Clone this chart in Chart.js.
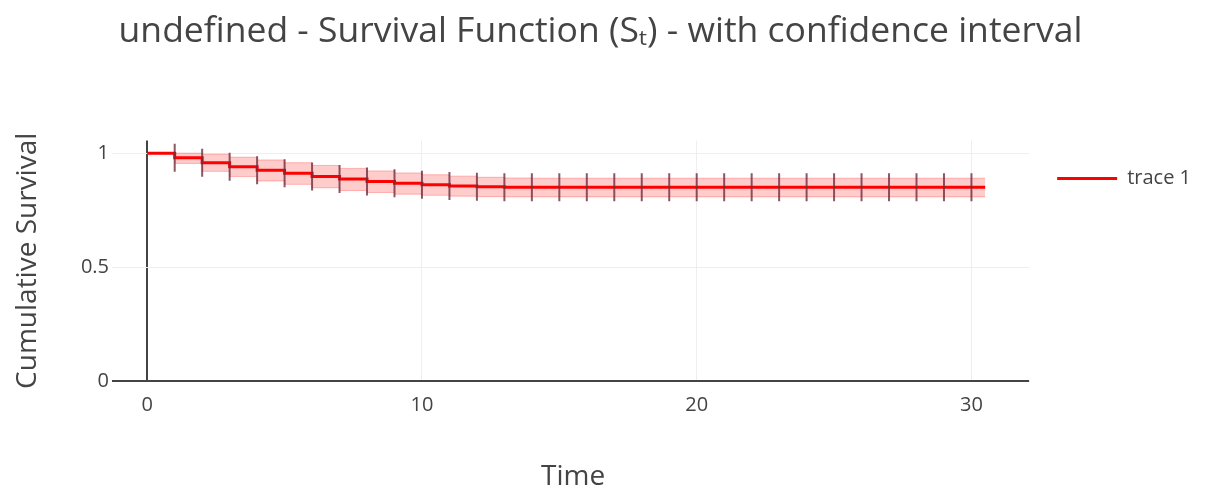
<!DOCTYPE html>
<html>
<head>
<meta charset="utf-8">
<title>Survival Function</title>
<script src="https://cdn.jsdelivr.net/npm/chart.js@4"></script>
<style>
  html, body { margin: 0; padding: 0; background: #fff; }
  #wrap { width: 1219px; height: 489px; position: relative; }
</style>
</head>
<body>
<div id="wrap"><canvas id="survivalChart"></canvas></div>
<script>
// Kaplan-Meier estimate
const times = [0, 1, 2, 3, 4, 5, 6, 7, 8, 9, 10, 11, 12, 13, 14, 15, 16, 17, 18, 19, 20, 21, 22, 23, 24, 25, 26, 27, 28, 29, 30, 30.5];
const survival = [1, 0.98, 0.958, 0.94, 0.925, 0.912, 0.898, 0.886, 0.876, 0.868, 0.861, 0.856, 0.852, 0.85, 0.85, 0.85, 0.85, 0.85, 0.85, 0.85, 0.85, 0.85, 0.85, 0.85, 0.85, 0.85, 0.85, 0.85, 0.85, 0.85, 0.85, 0.85];
const upper = [1, 1, 0.995, 0.982, 0.97, 0.958, 0.946, 0.933, 0.922, 0.913, 0.905, 0.899, 0.894, 0.891, 0.89, 0.89, 0.89, 0.89, 0.89, 0.89, 0.89, 0.89, 0.89, 0.89, 0.89, 0.89, 0.89, 0.89, 0.89, 0.89, 0.89, 0.89];
const lower = [1, 0.955, 0.92, 0.897, 0.878, 0.863, 0.848, 0.836, 0.827, 0.82, 0.815, 0.811, 0.809, 0.808, 0.808, 0.808, 0.808, 0.808, 0.808, 0.808, 0.808, 0.808, 0.808, 0.808, 0.808, 0.808, 0.808, 0.808, 0.808, 0.808, 0.808, 0.808];
const censorTimes = [1, 2, 3, 4, 5, 6, 7, 8, 9, 10, 11, 12, 13, 14, 15, 16, 17, 18, 19, 20, 21, 22, 23, 24, 25, 26, 27, 28, 29, 30];
const xTicks = [0, 10, 20, 30];
const yTicks = [0, 0.5, 1];

const FONT = "'Open Sans', 'DejaVu Sans', sans-serif";
const TEXT = '#444';

function pts(ys) {
  return times.map((t, i) => ({ x: t, y: ys[i] }));
}
const censorPts = censorTimes.map(t => ({ x: t, y: survival[times.indexOf(t)] }));

const ctx = document.getElementById('survivalChart').getContext('2d');
new Chart(ctx, {
  type: 'line',
  data: {
    datasets: [
      {
        label: 'upper',
        data: pts(upper),
        stepped: 'before',
        borderColor: 'rgba(255, 0, 0, 0.25)',
        borderWidth: 1,
        pointRadius: 0,
        fill: false,
        order: 3
      },
      {
        label: 'lower',
        data: pts(lower),
        stepped: 'before',
        borderColor: 'rgba(255, 0, 0, 0.25)',
        borderWidth: 1,
        backgroundColor: 'rgba(255, 0, 0, 0.2)',
        pointRadius: 0,
        fill: '-1',
        order: 2
      },
      {
        label: 'trace 1',
        data: pts(survival),
        stepped: 'before',
        borderColor: 'rgb(255, 0, 0)',
        backgroundColor: 'rgb(255, 0, 0)',
        borderWidth: 3,
        pointRadius: 0,
        fill: false,
        order: 1
      },
      {
        label: 'censored',
        data: censorPts,
        showLine: false,
        pointStyle: 'line',
        rotation: 90,
        pointRadius: 14,
        pointBorderWidth: 2,
        pointBorderColor: 'rgba(110, 45, 60, 0.8)',
        order: 0
      }
    ]
  },
  options: {
    responsive: true,
    maintainAspectRatio: false,
    animation: false,
    layout: { padding: { left: 0, right: 18, top: 0, bottom: 0 } },
    plugins: {
      tooltip: { enabled: false },
      title: {
        display: true,
        text: 'undefined - Survival Function (Sₜ) - with confidence interval',
        color: TEXT,
        font: { family: FONT, size: 35.5, weight: 'normal' },
        padding: { top: 11, bottom: 87 }
      },
      legend: {
        position: 'right',
        align: 'start',
        fullSize: false,
        labels: {
          color: TEXT,
          font: { family: FONT, size: 20, lineHeight: 1 },
          boxWidth: 60,
          boxHeight: 3,
          padding: 28,
          generateLabels: chart => Chart.defaults.plugins.legend.labels.generateLabels(chart)
            .filter(item => item.text === 'trace 1')
            .map(item => Object.assign(item, { lineWidth: 0, fillStyle: 'rgb(255, 0, 0)' }))
        }
      }
    },
    scales: {
      x: {
        type: 'linear',
        min: -1.1,
        max: 32.1,
        afterBuildTicks: s => { s.ticks = xTicks.map(v => ({ value: v })); },
        afterFit: s => { s.height = 108; },
        border: { display: false },
        grid: {
          color: c => c.tick && c.tick.value === 0 ? '#444' : '#eee',
          lineWidth: c => c.tick && c.tick.value === 0 ? 2 : 1,
          drawTicks: false
        },
        ticks: {
          color: TEXT,
          font: { family: FONT, size: 20 },
          padding: 12,
          maxRotation: 0
        },
        title: {
          display: true,
          text: 'Time',
          color: TEXT,
          font: { family: FONT, size: 28 },
          padding: { top: 0, bottom: -5 }
        }
      },
      y: {
        type: 'linear',
        min: 0,
        max: 1.055,
        afterBuildTicks: s => { s.ticks = yTicks.map(v => ({ value: v })); },
        afterFit: s => { s.width = 117; },
        border: { display: false },
        grid: {
          color: c => c.tick && c.tick.value === 0 ? '#444' : '#eee',
          lineWidth: c => c.tick && c.tick.value === 0 ? 2 : 1,
          tickLength: 5
        },
        ticks: {
          color: TEXT,
          font: { family: FONT, size: 20 },
          padding: 3,
          callback: v => String(v)
        },
        title: {
          display: true,
          text: 'Cumulative Survival',
          color: TEXT,
          font: { family: FONT, size: 28 },
          padding: { top: 11, bottom: 0 }
        }
      }
    }
  }
});
</script>
</body>
</html>
